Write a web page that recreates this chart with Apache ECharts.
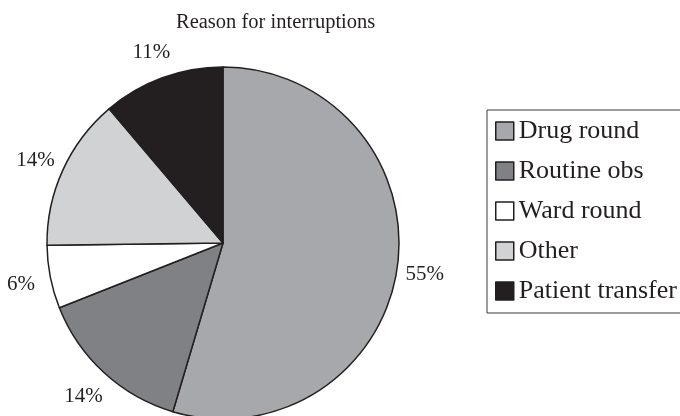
<!DOCTYPE html>
<html>
<head>
<meta charset="utf-8">
<script src="https://cdn.jsdelivr.net/npm/echarts@6/dist/echarts.min.js"></script>
<style>
  html, body { margin: 0; padding: 0; background: #fff; }
  #chart { width: 680px; height: 416px; }
</style>
</head>
<body>
<div id="chart"></div>
<script>
  /******************/
  //region    //data

  let categories = ['Drug round', 'Routine obs', 'Ward round', 'Other', 'Patient transfer'];
  let shares = [54.6, 14.4, 5.8, 14.0, 11.2];
  let colors = ['#a7a8ab', '#808184', '#ffffff', '#d1d2d4', '#231f20'];

  //endregion

  /******************/
  //region    //chart

  let font = 'Liberation Serif';
  let ink = '#231f20';

  let pieData = categories.map((name, i) => ({
    name: name,
    value: shares[i],
    itemStyle: {color: colors[i]},
  }));

  let chart = echarts.init(document.getElementById('chart'));

  let option = {
    animation: false,
    title: {
      text: 'Reason for interruptions',
      left: 176,
      top: 12,
      padding: 0,
      textStyle: {
        fontFamily: font,
        fontSize: 20.5,
        fontWeight: 'normal',
        color: ink,
      },
    },
    legend: {
      orient: 'vertical',
      left: 487,
      top: 110,
      padding: [8, 30, 9, 8],
      itemWidth: 18,
      itemHeight: 18,
      itemGap: 14,
      icon: 'rect',
      borderColor: '#3a3a3a',
      borderWidth: 1,
      itemStyle: {borderColor: ink, borderWidth: 1.5},
      textStyle: {
        fontFamily: font,
        fontSize: 26,
        color: ink,
      },
      data: categories,
    },
    series: [
      {
        type: 'pie',
        center: [223, 243],
        radius: 176,
        startAngle: 90,
        clockwise: true,
        silent: true,
        label: {show: false},
        labelLine: {show: false},
        itemStyle: {borderColor: ink, borderWidth: 1.5},
        data: pieData,
      },
      {
        // ring without fill, only used to place the percent labels
        type: 'pie',
        center: [222, 245],
        radius: [187, 217],
        startAngle: 90,
        clockwise: true,
        silent: true,
        legendHoverLink: false,
        itemStyle: {color: 'rgba(0,0,0,0)', borderWidth: 0},
        label: {
          show: true,
          position: 'inside',
          fontFamily: font,
          fontSize: 21,
          color: ink,
          formatter: p => Math.round(p.value) + '%',
        },
        labelLine: {show: false},
        data: categories.map((name, i) => ({name: name, value: shares[i]})),
      },
    ],
  };

  chart.setOption(option);

  //endregion
</script>
</body>
</html>
